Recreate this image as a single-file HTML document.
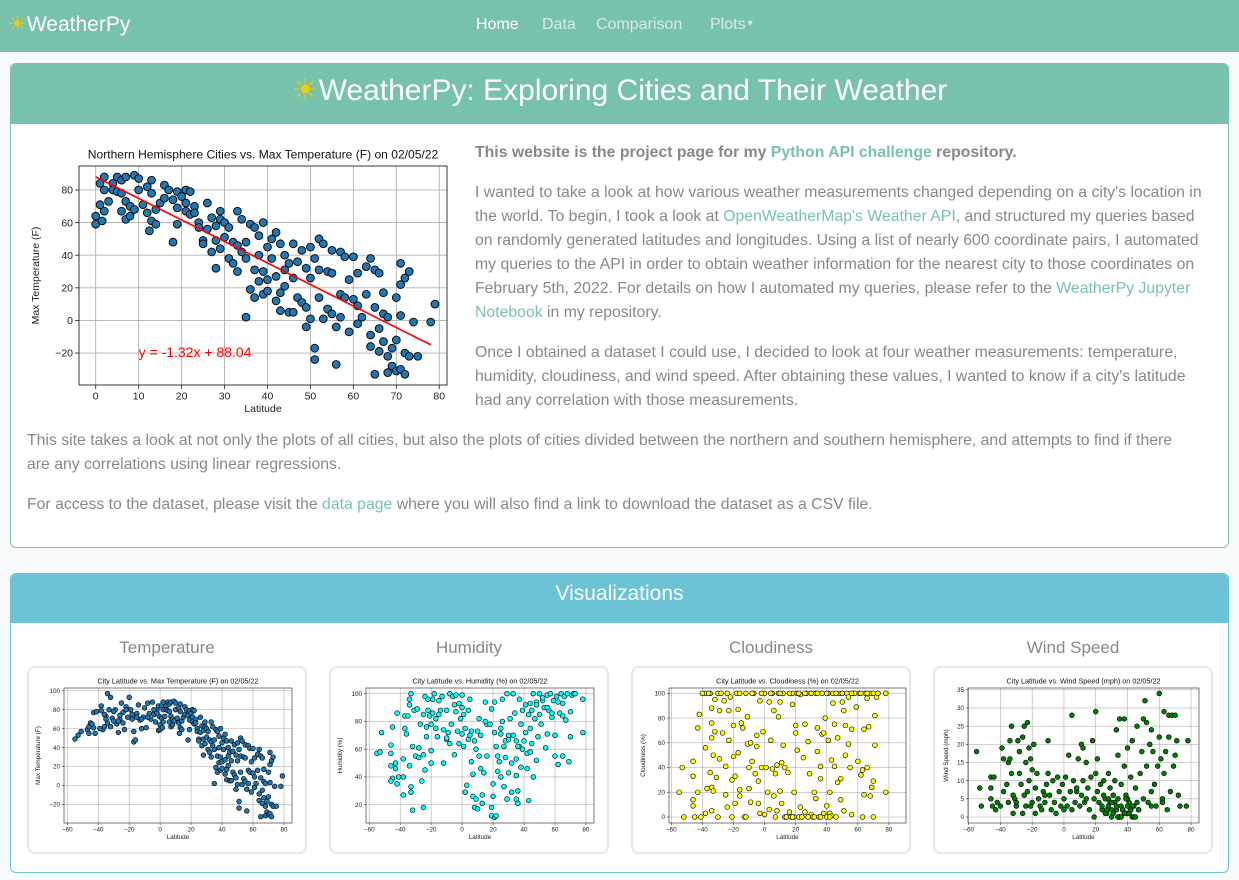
<!DOCTYPE html>
<html><head><meta charset="utf-8">
<style>
*{box-sizing:border-box;margin:0;padding:0}
body{width:1239px;height:880px;background:#f8f9fa;font-family:"Liberation Sans",sans-serif;position:relative;overflow:hidden;color:#888}
.abs{position:absolute}
#nav{left:0;top:0;width:1239px;height:52px;background:#78c2ad}
.brand{left:8px;top:12px;font-size:21px;color:#fff}
.sun{color:#f2cb05}
.nl{top:16px;font-size:16px;color:#d7ece6}
.card1{left:10px;top:63px;width:1219px;height:485px;border:1px solid #78c2ad;border-radius:6px;background:#fff;overflow:hidden}
.h1{left:0;top:0;width:100%;height:60px;background:#78c2ad;color:#fff;font-size:30px;text-align:center;line-height:54px}
.p{font-size:15.8px;line-height:24px;white-space:nowrap;color:#888}
a{color:#78c2ad;text-decoration:none}
.card2{left:10px;top:573px;width:1219px;height:300px;border:1px solid #6cc3d5;border-radius:6px;background:#fff;overflow:hidden}
.h2{left:0;top:0;width:100%;height:49px;background:#6cc3d5;color:#fff;font-size:21px;text-align:center;line-height:40px}
.vt{top:64px;width:280px;text-align:center;font-size:17px;color:#888}
.ic{top:92px;width:280px;height:188px;border:2px solid #e6e6e6;border-radius:8px;background:#fff}
svg{position:absolute;left:0;top:0}
</style></head><body>
<div id="nav" class="abs">
 <div class="abs brand"><span class="sun">☀</span>WeatherPy</div>
 <div class="abs nl" style="left:476px;color:#fff">Home</div>
 <div class="abs nl" style="left:542px">Data</div>
 <div class="abs nl" style="left:596px">Comparison</div>
 <div class="abs nl" style="left:710px">Plots<span style="font-size:9px;vertical-align:3px">▼</span></div>
</div>
<div class="abs card1">
 <div class="abs h1"><span class="sun">☀</span>WeatherPy: Exploring Cities and Their Weather</div>
 <div class="abs p" style="left:464px;top:77px;font-weight:bold">This website is the project page for my <a href="#">Python API challenge</a> repository.</div>
 <div class="abs p" style="left:464px;top:117px">I wanted to take a look at how various weather measurements changed depending on a city's location in<br>the world. To begin, I took a look at <a href="#">OpenWeatherMap's Weather API</a>, and structured my queries based<br>on randomly generated latitudes and longitudes. Using a list of nearly 600 coordinate pairs, I automated<br>my queries to the API in order to obtain weather information for the nearest city to those coordinates on<br>February 5th, 2022. For details on how I automated my queries, please refer to the <a href="#">WeatherPy Jupyter</a><br><a href="#">Notebook</a> in my repository.</div>
 <div class="abs p" style="left:464px;top:277px">Once I obtained a dataset I could use, I decided to look at four weather measurements: temperature,<br>humidity, cloudiness, and wind speed. After obtaining these values, I wanted to know if a city's latitude<br>had any correlation with those measurements.</div>
 <div class="abs p" style="left:16px;top:365px">This site takes a look at not only the plots of all cities, but also the plots of cities divided between the northern and southern hemisphere, and attempts to find if there<br>are any correlations using linear regressions.</div>
 <div class="abs p" style="left:16px;top:429px">For access to the dataset, please visit the <a href="#">data page</a> where you will also find a link to download the dataset as a CSV file.</div>
</div>
<div class="abs card2">
 <div class="abs h2">Visualizations</div>
 <div class="abs vt" style="left:16px">Temperature</div>
 <div class="abs vt" style="left:318px">Humidity</div>
 <div class="abs vt" style="left:620px">Cloudiness</div>
 <div class="abs vt" style="left:922px">Wind Speed</div>
 <div class="abs ic" style="left:16px"></div>
 <div class="abs ic" style="left:318px"></div>
 <div class="abs ic" style="left:620px"></div>
 <div class="abs ic" style="left:922px"></div>
</div>
<svg id="charts" width="1239" height="880"></svg>
<script>
const northLat=[0,0,1,1,2,2,1.5,2,3,4,4,5,5,6,6,6,7,7,7,8,8,9,9,10,10,11,12,12,13,13,13,12.5,14,14,15,16,16,17,18,18,19,19,19,20,21,21,21,22,22,23,23,24,24,25,25,26,26,27,27,28,28,28,29,29,29,30,30,31,31,32,32,33,33,33,34,34,35,35,35,36,36,37,37,37,38,38,38,39,39,39,40,40,40,41,41,42,42,42,43,43,43,44,44,44,45,45,46,46,46,47,47,48,48,49,49,49,50,50,50,51,51,51,52,52,52,53,53,54,54,55,55,55,56,56,57,57,57,58,58,59,59,60,60,61,61,61,62,63,63,64,64,64,65,65,65,66,66,66,67,67,67,68,68,68,69,69,70,70,70,71,71,71,71,72,72,72,73,73,74,75,78,79];
const northTemp=[59,64,84,71,80,67,61,88,73,84,80,88,79,86,67,78,73,62,88,70,64,68,89,87,80,71,82,66,86,78,61,55,68,59,72,83,75,80,74,48,79,59,69,76,80,67,72,79,65,70,66,60,57,49,47,72,56,63,42,32,49,58,67,44,62,51,60,38,57,48,35,30,67,46,42,62,2,38,48,59,19,31,14,57,40,52,24,60,16,30,45,25,18,50,38,54,12,27,6,47,17,31,21,40,5,35,47,26,5,36,14,11,43,8,-4,32,45,26,1,38,-24,-17,50,31,14,1,47,30,7,29,4,43,-4,-27,2,16,42,39,14,25,-7,39,13,9,29,-2,2,16,33,38,-9,-16,-33,31,8,-19,29,-5,17,4,-13,-32,2,-22,-28,-17,14,-31,-12,22,35,3,-30,26,-33,-20,30,-22,-1,-22,-1,10];
const southLat=[-55,-53,-51,-47,-46,-46,-45,-43,-43,-42,-41,-38,-38,-37,-36,-35,-34,-34,-33,-32,-32,-31,-29,-28,-27,-26,-25,-24,-24,-23,-22,-21,-20,-19,-18,-17,-17,-16,-15,-14,-13,-12,-11,-10,-9,-8,-7,-6,-5,-4,-3,-2,-1,-1,-0.5,-26,-30,-36,-39,-44,-30,-22,-18,-12,-8,-4,-2,-27,-35,-15];
const southTemp=[49,53,57,59,62,55,66,61,77,55,78,84,79,59,62,73,97,66,80,93,62,71,80,65,56,70,87,77,66,59,83,72,93,80,70,57,46,48,76,85,69,60,72,82,61,87,76,70,88,75,67,80,84,58,73,74,68,75,60,65,78,80,75,70,72,80,76,68,70,72];
const regSlope=-1.32, regIntercept=88.04;
const tempXTicks=[0,10,20,30,40,50,60,70,80];
const tempYTicks=[-20,0,20,40,60,80];
const allXTicks=[-60,-40,-20,0,20,40,60,80];
const humLat=[-55,-53,-52,-46,-46,-46,-45,-45,-46,-43,-43,-42,-42,-41,-38,-38,-38,-37,-37,-36,-35,-34,-34,-34,-33,-33,-33,-32,-32,-31,-30,-29,-28,-28,-27,-26,-25,-25,-24,-24,-23,-23,-22,-22,-21,-20,-20,-19,-19,-18,-17,-17,-16,-15,-14,-13,-12,-12,-10,-10,-9,-8,-8,-7,-6,-5,-4,-4,-3,-2,-2,-1,0,0,1,1,2,2,3,4,4,5,6,6,7,7,8,8,9,9,10,10,11,11,12,12,13,13,14,15,16,16,18,19,19,19,20,20,21,21,21,22,22,23,23,24,25,25,26,26,27,27,28,28,29,29,30,30,31,32,32,33,33,34,35,35,35,36,36,37,37,38,38,39,39,40,41,41,42,42,43,43,44,44,45,46,46,47,48,48,49,50,50,51,52,53,54,55,55,56,57,58,59,60,60,61,62,63,64,65,65,66,67,68,69,70,70,71,72,73,78,78,-20,-15,-5,5,15,25,35,45,55,65,48,52,58,62,44,36,30,-25,-10,0];
const humVal=[57,58,72,63,57,48,76,39,37,46,50,35,86,40,40,27,53,75,84,71,84,92,96,48,100,33,29,16,62,88,55,89,61,54,78,37,18,56,98,45,76,69,88,96,84,50,59,96,86,100,82,75,69,95,88,98,50,74,88,67,72,100,64,78,98,56,99,87,73,93,64,82,99,71,85,62,29,75,34,88,67,96,51,73,26,42,66,18,60,24,17,73,55,82,46,70,27,21,43,94,55,78,78,12,18,89,35,26,11,94,72,62,12,55,44,51,71,40,96,80,33,62,54,66,100,24,43,67,82,29,50,100,70,86,41,24,53,21,30,62,96,78,47,88,60,66,92,72,46,57,23,85,75,93,64,40,100,82,94,52,69,100,85,78,95,90,61,71,99,88,100,83,95,55,70,98,49,86,100,55,93,98,81,100,51,69,87,99,100,100,72,96,78,85,92,70,80,75,66,88,90,84,92,97,86,94,58,62,70,85,68,90];
const humYTicks=[20,40,60,80,100];
const cloudLat=[-55,-53,-52,-46,-46,-46,-46,-45,-43,-43,-42,-41,-38,-38,-38,-37,-35,-35,-34,-34,-34,-34,-34,-33,-33,-32,-32,-31,-30,-29,-29,-28,-27,-26,-25,-25,-24,-23,-23,-22,-21,-21,-20,-20,-19,-19,-18,-17,-17,-16,-16,-15,-14,-13,-12,-11,-11,-10,-10,-9,-9,-8,-7,-6,-5,-5,-4,-4,-3,-3,-2,-1,0,0,1,2,3,3,4,5,5,6,6,7,7,8,8,9,9,10,10,11,11,12,12,13,13,14,15,16,17,18,18,19,19,20,20,21,21,22,23,23,24,25,26,26,27,28,28,29,30,30,31,32,33,33,34,34,35,36,36,37,37,38,38,39,40,40,41,41,42,42,43,43,44,45,45,46,47,47,48,49,49,50,50,51,51,52,52,53,54,54,55,56,56,57,58,59,60,61,62,63,63,64,64,65,66,66,67,68,68,69,70,70,71,71,72,73,78,78,-40,-36,-24,-16,-8,-2,4,10,16,22,26,30,34,40,44,46,50,56,62,66,70,14,18,24,28,32,36,42,-30,-12];
const cloudVal=[20,40,0,45,33,14,9,0,72,20,83,0,100,56,3,23,100,36,88,64,76,24,5,50,21,95,69,32,100,47,86,100,68,94,18,41,8,62,86,97,30,0,74,49,33,11,100,87,52,22,17,76,72,0,100,81,59,40,23,60,12,45,100,35,66,57,29,11,94,3,40,69,2,100,40,20,93,6,62,100,39,86,17,0,35,42,5,100,81,21,93,11,44,100,58,0,40,0,36,4,0,100,91,0,20,74,68,100,54,0,99,8,0,48,75,4,100,0,61,35,100,2,0,20,15,100,72,53,0,31,41,100,67,68,3,80,9,0,100,62,20,3,46,1,92,41,75,0,28,64,100,14,31,100,93,5,86,74,50,100,59,97,40,2,71,100,100,89,45,100,34,38,0,71,18,100,96,40,73,17,100,24,29,0,58,82,97,100,100,20,100,100,100,100,100,100,100,100,100,100,100,100,100,100,100,100,100,100,100,100,100,0,0,0,0,0,0,0,0,0];
const cloudYTicks=[0,20,40,60,80,100];
const windLat=[-55,-53,-52,-46,-46,-46,-45,-44,-43,-42,-40,-39,-38,-38,-36,-35,-35,-34,-34,-33,-33,-32,-32,-31,-30,-29,-28,-28,-27,-26,-26,-25,-25,-24,-24,-23,-23,-22,-22,-21,-21,-20,-20,-19,-18,-18,-17,-16,-15,-14,-13,-12,-11,-10,-10,-9,-8,-7,-6,-5,-4,-3,-2,-1,0,0,1,2,3,4,5,5,6,7,8,9,10,11,11,12,12,13,14,15,16,17,18,19,19,20,20,21,21,22,23,24,25,26,27,28,28,29,30,31,32,33,33,34,34,35,35,36,37,38,38,39,40,40,41,42,43,43,44,45,46,47,48,49,50,50,51,52,52,53,54,55,55,56,57,58,59,60,60,61,62,63,63,64,65,66,66,67,68,69,70,70,71,72,73,77,78,24,26,28,30,32,34,36,38,40,42,44,46,25,27,29,31,33,35,37,39,41,43,45,47,30,34,38,42,36,40,-30,-12,8,14,55,62,68];
const windVal=[18,8,3,11,8,5,3,11,2,4,3,19,16,7,9,15,4,21,16,25,12,6,1,5,3,21,18,12,9,1,22,25,6,3,15,26,7,19,10,16,3,13,4,20,8,1,12,5,3,2,7,4,9,21,12,6,2,10,4,1,11,7,3,9,5,2,11,3,17,7,28,2,10,4,7,16,3,20,6,19,10,4,15,8,2,11,21,5,0,29,12,16,7,4,9,2,10,5,1,12,3,8,0,6,10,24,2,17,5,27,0,9,2,14,27,6,19,1,4,11,21,0,3,8,25,2,12,18,27,5,32,26,14,4,20,24,7,18,9,3,14,22,34,16,5,29,12,18,2,28,22,7,28,14,28,17,21,6,3,3,21,3,1,5,2,4,0,3,1,5,2,0,4,6,2,4,1,3,0,2,5,1,3,0,2,4,0,1,2,0,3,4,6,8,5,3,4];
const windYTicks=[0,5,10,15,20,25,30,35];

const NS='http://www.w3.org/2000/svg';
const root=document.getElementById('charts');
function mk(tag,attrs,parent){const e=document.createElementNS(NS,tag);for(const k in attrs)e.setAttribute(k,attrs[k]);(parent||root).appendChild(e);return e;}
function scatter(c){
  const g=mk('g',{});
  
  
  const sx=v=>c.L+(v-c.x0)/(c.x1-c.x0)*(c.R-c.L);
  const sy=v=>c.B-(v-c.y0)/(c.y1-c.y0)*(c.B-c.T);
  mk('rect',{x:c.L,y:c.T,width:c.R-c.L,height:c.B-c.T,fill:'#fff'},g);
  c.xt.forEach(t=>{const x=sx(t);mk('line',{x1:x,x2:x,y1:c.T,y2:c.B,stroke:'#b0b0b0','stroke-width':c.gw},g);
    mk('line',{x1:x,x2:x,y1:c.B,y2:c.B+c.tk,stroke:'#333','stroke-width':c.gw},g);
    const tx=mk('text',{x:x,y:c.B+c.tk+c.fs,'font-size':c.fs,'text-anchor':'middle',fill:'#222'},g);tx.textContent=String(t).replace('-','−');});
  c.yt.forEach(t=>{const y=sy(t);mk('line',{x1:c.L,x2:c.R,y1:y,y2:y,stroke:'#b0b0b0','stroke-width':c.gw},g);
    mk('line',{x1:c.L-c.tk,x2:c.L,y1:y,y2:y,stroke:'#333','stroke-width':c.gw},g);
    const tx=mk('text',{x:c.L-c.tk-2,y:y+c.fs*0.35,'font-size':c.fs,'text-anchor':'end',fill:'#222'},g);tx.textContent=String(t).replace('-','−');});
  const n=Math.min(c.xs.length,c.ys.length);
  for(let i=0;i<n;i++){
    const px=sx(c.xs[i]),py=sy(c.ys[i]);
    if(!(px>=c.L&&px<=c.R&&py>=c.T&&py<=c.B))continue;
    const p=mk('circle',{cx:px,cy:py,r:c.r,fill:c.col,stroke:'#000','stroke-width':c.sw},g);
    
    
  }
  if(c.reg){mk('line',{x1:sx(c.reg[0]),y1:sy(c.reg[1]),x2:sx(c.reg[2]),y2:sy(c.reg[3]),stroke:'red','stroke-width':1.6},g);
    const t=mk('text',{x:sx(10),y:sy(-20)+4,'font-size':14,fill:'red'},g);t.textContent='y = '+regSlope+'x + '+regIntercept;
    
    }
  mk('rect',{x:c.L,y:c.T,width:c.R-c.L,height:c.B-c.T,fill:'none',stroke:'#222','stroke-width':c.gw},g);
  const tt=mk('text',{x:(c.L+c.R)/2,y:c.T-c.fs*0.7,'font-size':c.fs*1.15,'text-anchor':'middle',fill:'#111'},g);tt.textContent=c.title;
  const xl=mk('text',{x:(c.L+c.R)/2,y:c.B+c.tk+c.fs*2.2,'font-size':c.fs,'text-anchor':'middle',fill:'#222'},g);xl.textContent='Latitude';
  const yx=c.L-c.yl, yy=(c.T+c.B)/2;
  const yl=mk('text',{x:yx,y:yy,'font-size':c.fs,'text-anchor':'middle',fill:'#222',transform:`rotate(-90 ${yx} ${yy})`},g);yl.textContent=c.ylab;
}
scatter({name:'northern-temperature-chart',L:79,R:447,T:166,B:385,x0:-3.89,x1:81.8,y0:-39.6,y1:94.7,xt:tempXTicks,yt:tempYTicks,xs:northLat,ys:northTemp,r:3.9,sw:0.9,col:'#1f77b4',fs:10.5,tk:4,gw:0.9,yl:40,
  title:'Northern Hemisphere Cities vs. Max Temperature (F) on 02/05/22',ylab:'Max Temperature (F)',reg:[0,regIntercept,78,regSlope*78+regIntercept]});
const sm={fs:6.3,tk:2,gw:0.6,r:2.4,sw:0.6,T:688,B:823};
scatter(Object.assign({},sm,{name:'temperature-chart',L:64,R:292,x0:-62.1,x1:85.2,y0:-39.7,y1:102.9,xt:allXTicks,yt:tempYTicks.concat([100]),xs:southLat.concat(northLat),ys:southTemp.concat(northTemp),col:'#1f77b4',yl:24,title:'City Latitude vs. Max Temperature (F) on 02/05/22',ylab:'Max Temperature (F)'}));
scatter(Object.assign({},sm,{name:'humidity-chart',L:366,R:594,x0:-62.1,x1:85.2,y0:6.8,y1:104.1,xt:allXTicks,yt:humYTicks,xs:humLat,ys:humVal,col:'#00ffff',yl:24,title:'City Latitude vs. Humidity (%) on 02/05/22',ylab:'Humidity (%)'}));
scatter(Object.assign({},sm,{name:'cloudiness-chart',L:669,R:906,x0:-61.5,x1:91,y0:-4.85,y1:104.3,xt:allXTicks,yt:cloudYTicks,xs:cloudLat,ys:cloudVal,col:'#ffff00',yl:24,title:'City Latitude vs. Cloudiness (%) on 02/05/22',ylab:'Cloudiness (%)'}));
scatter(Object.assign({},sm,{name:'wind-speed-chart',L:968,R:1199,x0:-60.4,x1:85,y0:-1.65,y1:35.5,xt:allXTicks,yt:windYTicks,xs:windLat,ys:windVal,col:'#008000',yl:20,title:'City Latitude vs. Wind Speed (mph) on 02/05/22',ylab:'Wind Speed (mph)'}));
</script>
</body></html>
